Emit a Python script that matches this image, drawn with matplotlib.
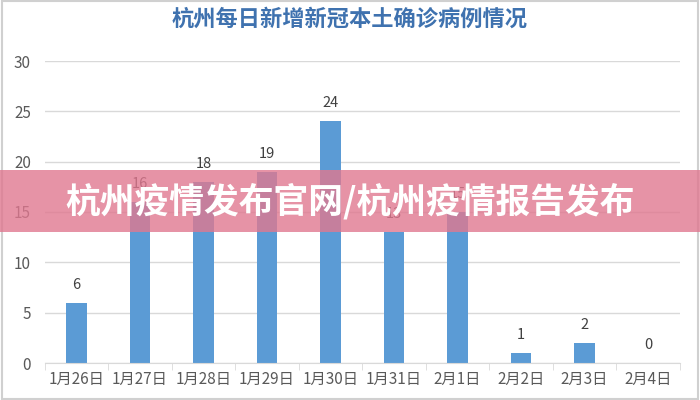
import numpy as np
import matplotlib.pyplot as plt
from matplotlib.patches import Rectangle

plt.rcParams['font.family'] = ['Noto Sans CJK SC', 'DejaVu Sans']

dates = ['1月26日', '1月27日', '1月28日', '1月29日', '1月30日',
         '1月31日', '2月1日', '2月2日', '2月3日', '2月4日']
cases = [6, 16, 18, 19, 24, 13, 15, 1, 2, 0]

title = '杭州每日新增新冠本土确诊病例情况'
banner = '杭州疫情发布官网/杭州疫情报告发布'

fig = plt.figure(figsize=(7, 4), dpi=100)
ax = fig.add_axes([0.064, 0.0925, 0.907, 0.755])

x = np.arange(len(dates))
ax.bar(x, cases, width=0.32, color='#5b9bd5', zorder=2)
for xi, v in zip(x, cases):
    ax.text(xi, v + 1.1, str(v), ha='center', va='bottom',
            fontsize=10.5, color='#404040')

ax.set_xlim(-0.5, len(dates) - 0.5)
ax.set_ylim(0, 30)
ax.set_yticks(range(0, 31, 5))
ax.yaxis.grid(True, color='#d9d9d9', linewidth=1, zorder=0)
ax.set_xticks(x)
ax.set_xticklabels(dates, fontsize=11, color='#595959')
ax.set_xticks(np.arange(-0.5, len(dates), 1), minor=True)
ax.tick_params(axis='x', which='major', length=0, pad=6)
ax.tick_params(axis='x', which='minor', length=5, color='#d9d9d9')
ax.tick_params(axis='y', length=0, labelsize=11, labelcolor='#595959', pad=10)
for s in ['top', 'right', 'left']:
    ax.spines[s].set_visible(False)
ax.spines['bottom'].set_color('#d9d9d9')

fig.text(0.5, 0.953, title, ha='center', va='center', fontsize=16,
         fontweight='heavy', color='#3f72af')

# frame around the picture
fig.patches.append(Rectangle((0.003, 0.003), 0.994, 0.994, transform=fig.transFigure,
                             fill=False, edgecolor='#d0d0d0', linewidth=1.5))

# pink banner over the chart
fig.patches.append(Rectangle((0, 0.42), 1, 0.155, transform=fig.transFigure,
                             facecolor='#e07890', alpha=0.8, edgecolor='none', zorder=5))
fig.text(0.5, 0.4975, banner, ha='center', va='center', fontsize=25,
         fontweight='heavy', color='white', zorder=6)

fig.savefig('out.png', dpi=100)
